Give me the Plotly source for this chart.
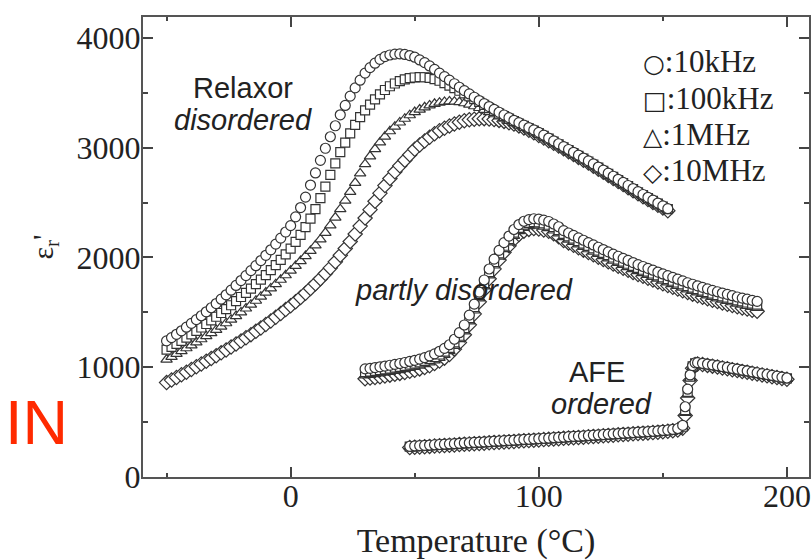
import plotly.graph_objects as go

# ---------------- data ----------------
# Relaxor (disordered) section
T_relax = [-50,-48,-46,-44,-42,-40,-38,-36,-34,-32,-30,-28,-26,-24,-22,-20,-18,-16,-14,-12,
           -10,-8,-6,-4,-2,0,2,4,6,8,10,12,14,16,18,20,22,24,26,28,30,32,34,36,38,40,42,44,46,48,
           50,52,54,56,58,60,62,64,66,68,70,72,74,76,78,80,82,84,86,88,90,92,94,96,98,100,102,104,
           106,108,110,112,114,116,118,120,122,124,126,128,130,132,134,136,138,140,142,144,146,148,150,152]

relax_10kHz = [1240,1270,1300,1332,1365,1400,1434,1469,1505,1542,
               1580,1620,1660,1702,1745,1790,1835,1880,1925,1972,
               2020,2070,2122,2176,2232,
               2290,2370,2455,2550,2660,2770,2885,2995,3100,3200,
               3300,3385,3470,3545,3615,3680,3730,3770,3805,3830,
               3845,3853,3855,3850,3840,3825,3800,3775,3745,3713,
               3680,3648,3615,3583,3551,3520,3490,3460,3430,3402,
               3375,3349,3323,3298,3274,3250,3228,3206,3184,3162,
               3140,3114,3088,3062,3036,3010,2984,2958,2932,2906,
               2880,2852,2824,2796,2768,2740,2712,2684,2656,2628,
               2600,2574,2548,2522,2496,2470,2445]

relax_100kHz = [1160,1186,1213,1241,1270,1300,1331,1362,1394,1427,
                1460,1494,1529,1565,1602,1640,1678,1717,1757,1798,
                1840,1884,1930,1978,2028,
                2080,2142,2206,2276,2354,2440,2540,2645,2752,2858,
                2960,3046,3130,3208,3278,3340,3392,3440,3486,3526,
                3560,3585,3607,3623,3634,3640,3643,3642,3636,3625,
                3610,3589,3566,3543,3519,3495,3469,3443,3417,3391,
                3360,3336,3312,3289,3266,3242,3220,3199,3177,3155,
                3134,3108,3082,3056,3030,3004,2978,2952,2926,2900,
                2874,2846,2818,2790,2762,2734,2706,2678,2650,2622,
                2594,2568,2542,2516,2490,2464,2440]

relax_1MHz = [1070,1095,1121,1147,1173,1200,1227,1255,1283,1311,
              1340,1370,1401,1433,1466,1500,1535,1570,1606,1643,
              1680,1718,1757,1797,1838,
              1880,1923,1967,2013,2060,2110,2165,2225,2292,2364,
              2440,2518,2598,2680,2766,2850,2922,2988,3048,3102,
              3150,3192,3230,3264,3296,3325,3348,3368,3386,3400,
              3410,3417,3422,3420,3415,3405,3392,3378,3362,3344,
              3325,3305,3285,3265,3245,3225,3205,3185,3165,3145,
              3125,3100,3074,3048,3022,2996,2970,2944,2918,2892,
              2866,2838,2810,2782,2754,2726,2698,2670,2642,2614,
              2586,2560,2534,2508,2482,2456,2432]

relax_10MHz = [860,883,907,931,955,980,1005,1030,1055,1080,
               1105,1131,1158,1185,1212,1240,1268,1297,1327,1358,
               1390,1422,1456,1490,1525,
               1560,1597,1635,1675,1717,1760,1806,1854,1905,1960,
               2020,2082,2146,2214,2286,2360,2436,2512,2586,2655,
               2720,2780,2835,2886,2936,2985,3025,3062,3096,3127,
               3155,3178,3198,3217,3232,3245,3254,3260,3264,3265,
               3262,3256,3249,3240,3228,3215,3199,3180,3160,3136,
               3112,3088,3064,3040,3015,2990,2964,2938,2912,2886,
               2860,2832,2804,2776,2748,2720,2692,2664,2636,2608,
               2580,2554,2528,2502,2476,2450,2425]

# Partly disordered section
T_partly = [30,32,34,36,38,40,42,44,46,48,50,52,54,56,58,60,62,64,66,68,
            70,72,74,76,78,80,82,84,86,88,90,92,94,96,98,100,102,104,106,108,
            110,112,114,116,118,120,122,124,126,128,130,132,134,136,138,140,142,144,146,148,
            150,152,154,156,158,160,162,164,166,168,170,172,174,176,178,180,182,184,186,188]

partly_10kHz = [985,990,997,1004,1011,1018,1026,1034,1043,1053,
                1063,1074,1087,1103,1122,1145,1172,1205,1255,1315,
                1385,1475,1575,1685,1795,1895,1985,2065,2135,2195,
                2255,2300,2330,2345,2353,2350,2340,2328,2305,2280,
                2245,2223,2201,2179,2157,2135,2114,2093,2072,2051,
                2030,2011,1992,1973,1954,1935,1918,1901,1884,1867,
                1850,1834,1818,1802,1786,1770,1756,1742,1728,1714,
                1700,1688,1676,1664,1652,1640,1630,1620,1610,1600]

partly_100kHz = [955,961,967,974,981,988,996,1004,1013,1023,
                 1033,1045,1058,1074,1093,1116,1143,1177,1226,1287,
                 1357,1447,1547,1657,1767,1867,1957,2037,2107,2167,
                 2226,2270,2300,2316,2323,2320,2310,2298,2276,2250,
                 2215,2193,2171,2149,2127,2105,2084,2063,2042,2021,
                 2000,1981,1962,1943,1924,1905,1888,1871,1854,1837,
                 1820,1804,1788,1772,1756,1740,1726,1712,1698,1684,
                 1670,1658,1646,1634,1622,1610,1600,1590,1580,1570]

partly_1MHz = [925,931,937,944,951,958,966,974,983,993,
               1003,1015,1028,1044,1063,1086,1113,1147,1195,1256,
               1327,1417,1517,1627,1737,1837,1927,2007,2077,2137,
               2196,2240,2270,2286,2293,2290,2280,2268,2246,2220,
               2185,2163,2141,2119,2097,2075,2054,2033,2012,1991,
               1970,1951,1932,1913,1894,1875,1858,1841,1824,1807,
               1790,1774,1758,1742,1726,1710,1696,1682,1668,1654,
               1640,1628,1616,1604,1592,1580,1570,1560,1550,1540]

partly_10MHz = [895,901,907,914,921,928,936,944,953,963,
                973,985,998,1014,1033,1056,1083,1117,1165,1225,
                1296,1386,1486,1596,1706,1806,1896,1976,2046,2106,
                2165,2210,2240,2256,2263,2260,2250,2238,2216,2190,
                2155,2133,2111,2089,2067,2045,2024,2003,1982,1961,
                1940,1921,1902,1883,1864,1845,1828,1811,1794,1777,
                1760,1744,1728,1712,1696,1680,1666,1652,1638,1624,
                1610,1598,1586,1574,1562,1550,1540,1530,1520,1510]

# AFE (ordered) section
T_afe = [48,50,52,54,56,58,60,62,64,66,68,70,72,74,76,78,80,82,84,86,
         88,90,92,94,96,98,100,102,104,106,108,110,112,114,116,118,120,122,124,126,
         128,130,132,134,136,138,140,142,144,146,148,150,152,154,156,
         158,159,160,161,162,163,
         164,166,168,170,172,174,176,178,180,182,184,186,188,190,192,194,196,198,200]

afe_10kHz = [280,283,286,288,291,294,296,299,302,304,
             307,310,312,315,318,320,323,326,328,331,
             334,336,339,342,344,347,350,353,355,358,
             361,364,367,370,372,375,378,381,384,387,
             390,393,396,399,402,405,408,411,414,417,
             420,424,428,433,442,
             470,640,800,930,1015,1040,
             1042,1036,1029,1022,1014,1006,998,990,982,974,966,958,950,942,934,926,918,910,902]

afe_100kHz = [276,279,282,284,287,290,292,295,298,300,
              303,306,308,311,314,316,319,322,324,327,
              330,332,335,338,340,343,346,349,351,354,
              357,360,363,366,368,371,374,377,380,383,
              386,389,392,395,398,401,404,407,410,413,
              416,420,424,429,437,
              458,610,775,915,1008,1035,
              1038,1032,1025,1018,1010,1002,994,986,978,970,962,954,946,938,930,922,914,906,898]

afe_1MHz = [272,275,278,280,283,286,288,291,294,296,
            299,302,304,307,310,312,315,318,320,323,
            326,328,331,334,336,339,342,345,347,350,
            353,356,359,362,364,367,370,373,376,379,
            382,385,388,391,394,397,400,403,406,409,
            412,416,420,425,432,
            450,585,750,900,1000,1030,
            1034,1028,1021,1014,1006,998,990,982,974,966,958,950,942,934,926,918,910,902,894]

afe_10MHz = [268,271,274,276,279,282,284,287,290,292,
             295,298,300,303,306,308,311,314,316,319,
             322,324,327,330,332,335,338,341,343,346,
             349,352,355,358,360,363,366,369,372,375,
             378,381,384,387,390,393,396,399,402,405,
             408,412,416,421,428,
             445,560,720,880,990,1025,
             1030,1024,1017,1010,1002,994,986,978,970,962,954,946,938,930,922,914,906,898,890]

freq_symbols = ["○", "□", "△", "◇"]
freq_names = [":10kHz", ":100kHz", ":1MHz", ":10MHz"]
x_tickvals = [0, 100, 200]
y_tickvals = [0, 1000, 2000, 3000, 4000]

# ---------------- figure ----------------
SERIF = "Liberation Serif, Times New Roman, serif"
SANS = "Liberation Sans, Arial, sans-serif"
EDGE = "#333333"

symbols = ["circle", "square", "triangle-up", "diamond"]
sizes = [10, 9, 10, 11]

sections = [
    (T_relax, [relax_10kHz, relax_100kHz, relax_1MHz, relax_10MHz]),
    (T_partly, [partly_10kHz, partly_100kHz, partly_1MHz, partly_10MHz]),
    (T_afe, [afe_10kHz, afe_100kHz, afe_1MHz, afe_10MHz]),
]

fig = go.Figure()
for T, series in sections:
    for i in [3, 2, 1, 0]:
        fig.add_trace(go.Scatter(
            x=T, y=series[i], mode="markers", showlegend=False, hoverinfo="skip",
            marker=dict(symbol=symbols[i], size=sizes[i], color="white",
                        line=dict(color=EDGE, width=1.2)),
        ))

axis_common = dict(
    showgrid=False, zeroline=False, showline=True, linewidth=2, linecolor="#555555",
    mirror="ticks", ticks="inside", ticklen=10, tickwidth=1.5, tickcolor="#444444",
    tickfont=dict(family=SERIF, size=32, color="#222222"), automargin=False,
)

fig.update_layout(
    template="none",
    width=812, height=560,
    margin=dict(l=143, r=3, t=17, b=83),
    paper_bgcolor="white", plot_bgcolor="white",
    xaxis=dict(range=[-59.5, 208.9], tickmode="array", tickvals=x_tickvals,
               ticklabelstandoff=-10,
               minor=dict(tickmode="linear", tick0=0, dtick=50, ticks="inside", ticklen=4,
                          tickwidth=1.5, tickcolor="#444444", showgrid=False),
               title=dict(text="Temperature (°C)", font=dict(family=SERIF, size=34, color="#222222"),
                          standoff=22),
               **axis_common),
    yaxis=dict(range=[0, 4191], tickmode="array", tickvals=y_tickvals,
               ticklabelstandoff=-6,
               minor=dict(tickmode="linear", tick0=0, dtick=500, ticks="inside", ticklen=5,
                          tickwidth=1.5, tickcolor="#444444", showgrid=False),
               title=dict(text="ε<sub>r</sub>'", font=dict(family=SERIF, size=30, color="#222222"),
                          standoff=14),
               **axis_common),
)

def px2paper_x(px):
    return (px - 143) / 665.0

def px2paper_y(py):
    return (477 - py) / 460.0

ann = []
def add_text(text, px, py, size, family=SANS, color="#222222", xanchor="center"):
    ann.append(dict(text=text, x=px2paper_x(px), y=px2paper_y(py), xref="paper", yref="paper",
                    xanchor=xanchor, yanchor="middle", showarrow=False,
                    font=dict(family=family, size=size, color=color)))

add_text("Relaxor", 243, 88, 29)
add_text("<i>disordered</i>", 243, 120, 29)
add_text("<i>partly disordered</i>", 464, 290, 29)
add_text("AFE", 596, 372, 29)
add_text("<i>ordered</i>", 601, 404, 29)
add_text("IN", 3, 422, 63, color="#ff2a00", xanchor="left")

legend_rows_y = [62, 99, 134, 171]
for sym, name, py in zip(freq_symbols, freq_names, legend_rows_y):
    label = '<span style="font-family:DejaVu Sans;font-size:25px">' + sym + '</span>' + name
    add_text(label, 640, py, 31, family=SERIF, xanchor="left")

fig.update_layout(annotations=ann)
fig.write_html("out.html")
